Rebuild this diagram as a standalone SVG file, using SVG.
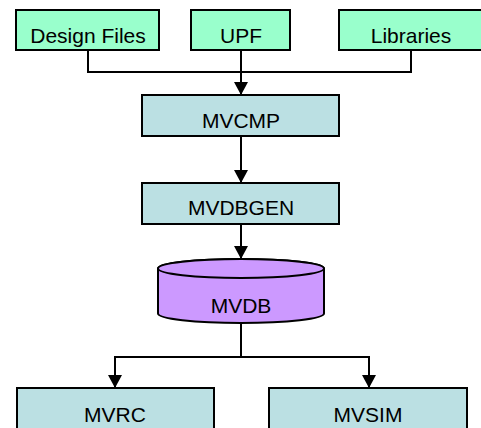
<svg xmlns="http://www.w3.org/2000/svg" width="481" height="428" viewBox="0 0 481 428">
<defs>
<style>
.in{fill:#99ffcc;stroke:#000;stroke-width:2}
.pr{fill:#bbe0e3;stroke:#000;stroke-width:2}
.db{fill:#cc99ff;stroke:#000;stroke-width:2}
.t{font-family:"Liberation Sans",Arial,sans-serif;font-size:21px;fill:#000;text-anchor:middle}
.c{fill:none;stroke:#000;stroke-width:2}
</style>
<marker id="ah" markerUnits="userSpaceOnUse" markerWidth="14" markerHeight="14" viewBox="0 0 14 14" refX="13" refY="7" orient="auto">
<path d="M0,0 L13,7 L0,14 Z" fill="#000"/>
</marker>
</defs>
<rect width="481" height="428" fill="#fff"/>
<g id="connectors">
<path class="c" d="M88,50 V72 H411 V50"/>
<path class="c" d="M241,50 V95" marker-end="url(#ah)"/>
<path class="c" d="M241,136 V183" marker-end="url(#ah)"/>
<path class="c" d="M241,224 V259" marker-end="url(#ah)"/>
<path class="c" d="M241,323 V357"/>
<path class="c" d="M115,357 H369"/>
<path class="c" d="M115,356 V388" marker-end="url(#ah)"/>
<path class="c" d="M369,356 V388" marker-end="url(#ah)"/>
</g>
<g id="design-files">
<rect class="in" x="16" y="10" width="143" height="40"/>
<text class="t" x="88" y="43">Design Files</text>
</g>
<g id="upf">
<rect class="in" x="191" y="10" width="99" height="40"/>
<text class="t" x="241" y="43">UPF</text>
</g>
<g id="libraries">
<rect class="in" x="339" y="10" width="144" height="40"/>
<text class="t" x="411" y="43">Libraries</text>
</g>
<g id="mvcmp">
<rect class="pr" x="142" y="95" width="197" height="41"/>
<text class="t" x="241" y="128">MVCMP</text>
</g>
<g id="mvdbgen">
<rect class="pr" x="142" y="183" width="197" height="41"/>
<text class="t" x="241" y="215">MVDBGEN</text>
</g>
<g id="mvdb">
<path class="db" d="M158,268.5 V313.5 A83,9.5 0 0 0 324,313.5 V268.5 A83,9.5 0 0 0 158,268.5 Z"/>
<ellipse class="db" cx="241" cy="268.5" rx="83" ry="9.5"/>
<text class="t" x="241" y="313">MVDB</text>
</g>
<g id="mvrc">
<rect class="pr" x="17" y="388" width="197" height="50"/>
<text class="t" x="115" y="422">MVRC</text>
</g>
<g id="mvsim">
<rect class="pr" x="269" y="388" width="198" height="50"/>
<text class="t" x="368" y="422">MVSIM</text>
</g>
</svg>
